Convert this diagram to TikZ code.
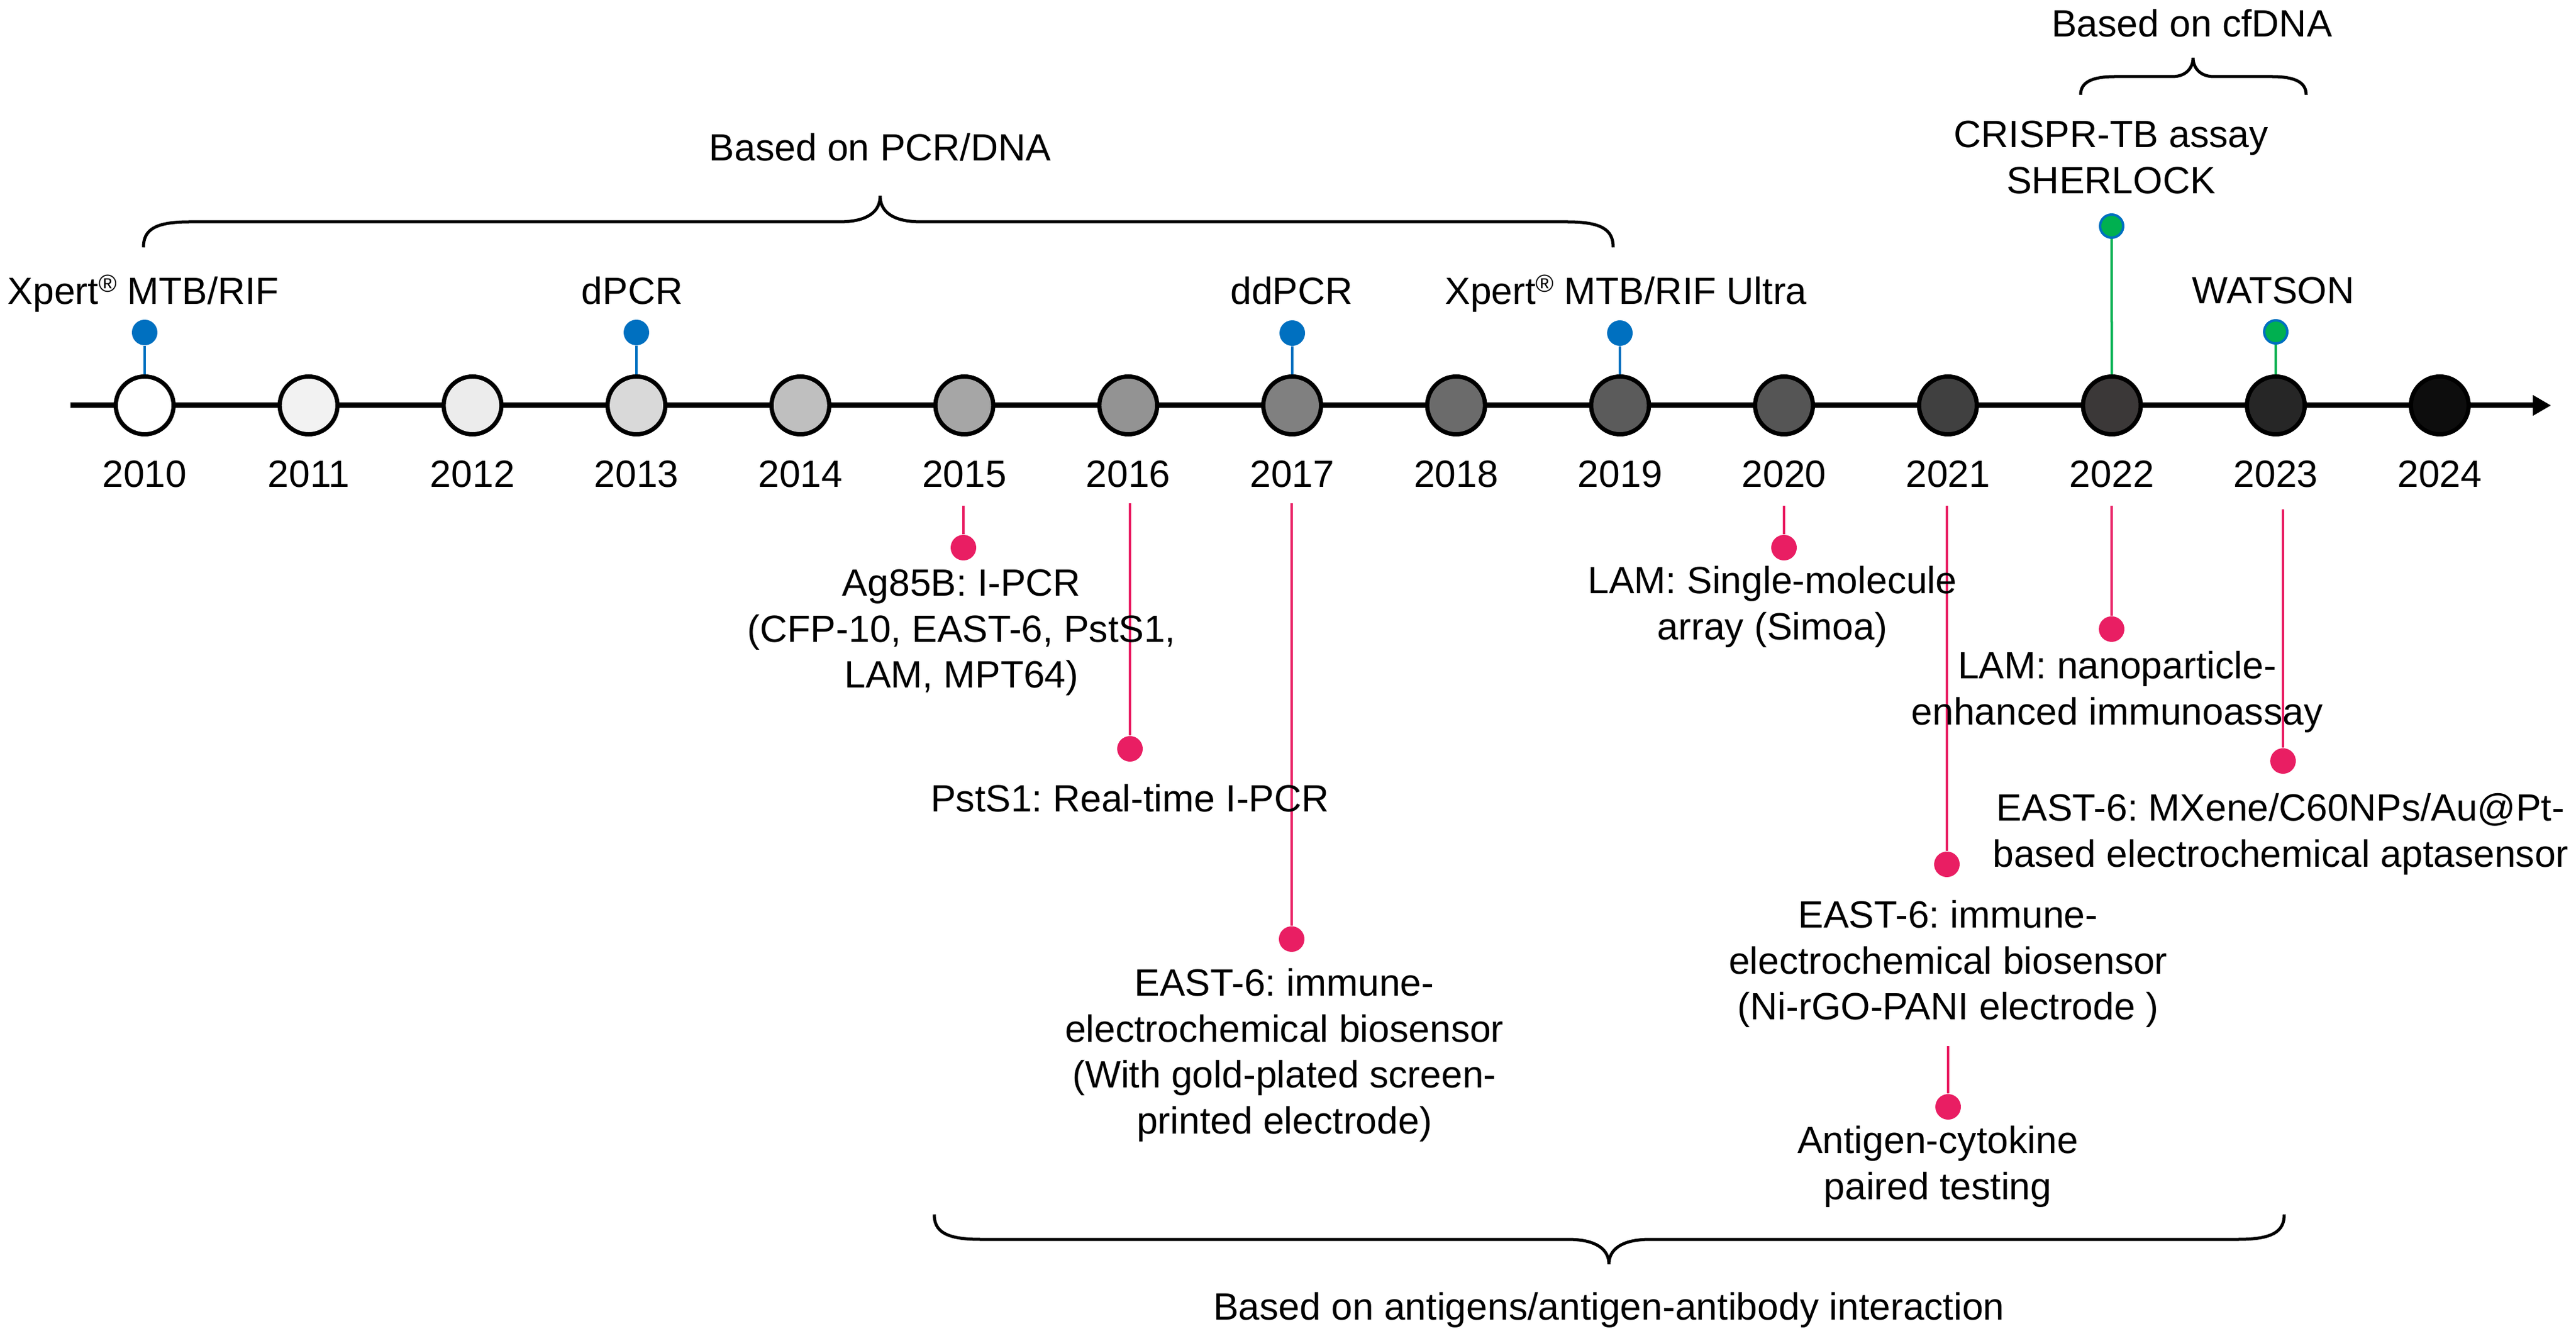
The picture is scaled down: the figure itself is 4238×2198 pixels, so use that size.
\documentclass[tikz,border=0pt]{standalone}
\usepackage{fontspec}
\setmainfont{Liberation Sans}
\frenchspacing
\usetikzlibrary{arrows.meta}
\definecolor{bluec}{HTML}{0070C0}
\definecolor{greenc}{HTML}{00B050}
\definecolor{pinkc}{HTML}{E91E63}
\definecolor{y2010}{HTML}{FFFFFF}
\definecolor{y2011}{HTML}{F2F2F2}
\definecolor{y2012}{HTML}{ECECEC}
\definecolor{y2013}{HTML}{D9D9D9}
\definecolor{y2014}{HTML}{BFBFBF}
\definecolor{y2015}{HTML}{A6A6A6}
\definecolor{y2016}{HTML}{939393}
\definecolor{y2017}{HTML}{808080}
\definecolor{y2018}{HTML}{6B6B6B}
\definecolor{y2019}{HTML}{5B5B5B}
\definecolor{y2020}{HTML}{555555}
\definecolor{y2021}{HTML}{404040}
\definecolor{y2022}{HTML}{3B3838}
\definecolor{y2023}{HTML}{262626}
\definecolor{y2024}{HTML}{0D0D0D}
\newcommand\ms{\rule[-0.25em]{0pt}{1.05em}}
\newcommand\reg{\raisebox{0.2cm}{\fontsize{0.405cm}{0.405cm}\selectfont ®}}
\begin{document}
\begin{tikzpicture}[x=0.01cm,y=-0.01cm,
  lbl/.style={font=\fontsize{0.624cm}{0.755cm}\selectfont, inner sep=0pt, align=center, anchor=north},
  timeline/.style={line width=0.09cm, -{Triangle[length=0.3cm,width=0.32cm]}},
  yearcirc/.style={circle, draw=black, line width=0.07cm, minimum size=0.95cm, inner sep=0pt},
  bdot/.style={circle, fill=bluec, minimum size=0.42cm, inner sep=0pt},
  gdot/.style={circle, fill=greenc, draw=bluec, line width=0.04cm, minimum size=0.38cm, inner sep=0pt},
  pdot/.style={circle, fill=pinkc, minimum size=0.42cm, inner sep=0pt},
  bstem/.style={draw=bluec, line width=0.04cm},
  gstem/.style={draw=greenc, line width=0.04cm},
  pstem/.style={draw=pinkc, line width=0.04cm},
  curly/.style={draw=black, line width=0.05cm}]
\useasboundingbox[fill=white] (0,0) rectangle (4238,2198);

% timeline
\coordinate (tlstart) at (116,667);
\coordinate (tlend) at (4197,667);
\draw[timeline] (tlstart) -- (tlend);

% year circles and labels
\foreach \i/\yr in {0/2010,1/2011,2/2012,3/2013,4/2014,5/2015,6/2016,7/2017,8/2018,9/2019,10/2020,11/2021,12/2022,13/2023,14/2024}{
  \node[yearcirc, fill=y\yr] (c\yr) at ({238+269.7*\i},667) {};
  \node[lbl] (yl\yr) at ({238+269.7*\i},751) {\ms\yr};
}

% top: DNA based events
\node[bdot] (d2010) at (238,547) {};
\node[bdot] (d2013) at (1047,547) {};
\node[bdot] (d2017) at (2126,548) {};
\node[bdot] (d2019) at (2665,548) {};
\node[gdot] (d2022) at (3474,372) {};
\node[gdot] (d2023) at (3744,546) {};
\draw[bstem] (d2010) -- (c2010);
\draw[bstem] (d2013) -- (c2013);
\draw[bstem] (d2017) -- (c2017);
\draw[bstem] (d2019) -- (c2019);
\draw[gstem] (d2022) -- (c2022);
\draw[gstem] (d2023) -- (c2023);

\node[lbl] (t2010) at (236,450) {\ms Xpert\reg\ MTB/RIF};
\node[lbl] (t2013) at (1040,450) {\ms dPCR};
\node[lbl] (t2017) at (2125,450) {\ms ddPCR};
\node[lbl] (t2019) at (2675,450) {\ms Xpert\reg\ MTB/RIF Ultra};
\node[lbl] (t2023) at (3740,449) {\ms WATSON};
\node[lbl] (t2022) at (3473,192) {\ms CRISPR-TB assay\\SHERLOCK};

% group labels and braces
\node[lbl] (pcrdna) at (1448,214) {\ms Based on PCR/DNA};
\node[lbl] (cfdna) at (3606,10) {\ms Based on cfDNA};
\node[lbl] (antig) at (2647,2121) {\ms Based on antigens/antigen-antibody interaction};

\draw[curly] (236,407) .. controls (236,378) and (255,365) .. (312,365) -- (1380,365)
  .. controls (1428,365) and (1448,348) .. (1448,322)
  .. controls (1448,348) and (1468,365) .. (1516,365) -- (2578,365)
  .. controls (2635,365) and (2654,378) .. (2654,407);
\draw[curly] (3423,156) .. controls (3423,136) and (3440,126) .. (3480,126) -- (3574,126)
  .. controls (3596,126) and (3608,112) .. (3608,95)
  .. controls (3608,112) and (3620,126) .. (3642,126) -- (3737,126)
  .. controls (3777,126) and (3794,136) .. (3794,156);
\draw[curly] (1537,1998) .. controls (1537,2026) and (1556,2039) .. (1613,2039) -- (2579,2039)
  .. controls (2627,2039) and (2647,2056) .. (2647,2080)
  .. controls (2647,2056) and (2667,2039) .. (2715,2039) -- (3682,2039)
  .. controls (3739,2039) and (3758,2026) .. (3758,1998);

% bottom: antigen based events
\coordinate (s2015) at (1585,832);
\coordinate (s2016) at (1859,828);
\coordinate (s2017) at (2125,828);
\coordinate (s2020) at (2935,832);
\coordinate (s2021) at (3203,832);
\coordinate (s2021b) at (3205,1721);
\coordinate (s2022) at (3474,832);
\coordinate (s2023) at (3756,838);
\node[pdot] (p2015) at (1585,901) {};
\node[pdot] (p2016) at (1859,1232) {};
\node[pdot] (p2017) at (2125,1545) {};
\node[pdot] (p2020) at (2935,901) {};
\node[pdot] (p2021) at (3203,1422) {};
\node[pdot] (p2021b) at (3205,1821) {};
\node[pdot] (p2022) at (3474,1035) {};
\node[pdot] (p2023) at (3756,1252) {};
\draw[pstem] (s2015) -- (p2015);
\draw[pstem] (s2016) -- (p2016);
\draw[pstem] (s2017) -- (p2017);
\draw[pstem] (s2020) -- (p2020);
\draw[pstem] (s2021) -- (p2021);
\draw[pstem] (s2021b) -- (p2021b);
\draw[pstem] (s2022) -- (p2022);
\draw[pstem] (s2023) -- (p2023);

\node[lbl] (l2015) at (1582,930) {\ms Ag85B: I-PCR\\(CFP-10, EAST-6, PstS1,\\LAM, MPT64)};
\node[lbl] (l2016) at (1859,1285) {\ms PstS1: Real-time I-PCR};
\node[lbl] (l2017) at (2113,1588) {\ms EAST-6: immune-\\electrochemical biosensor\\(With gold-plated screen-\\printed electrode)};
\node[lbl] (l2020) at (2916,926) {\ms LAM: Single-molecule\\array (Simoa)};
\node[lbl] (l2021) at (3205,1476) {\ms EAST-6: immune-\\electrochemical biosensor\\(Ni-rGO-PANI electrode )};
\node[lbl] (l2021b) at (3188,1847) {\ms Antigen-cytokine\\paired testing};
\node[lbl] (l2022) at (3483,1066) {\ms LAM: nanoparticle-\\enhanced immunoassay};
\node[lbl] (l2023) at (3752,1300) {\ms EAST-6: MXene/C60NPs/Au@Pt-\\based electrochemical aptasensor};
\end{tikzpicture}
\end{document}
